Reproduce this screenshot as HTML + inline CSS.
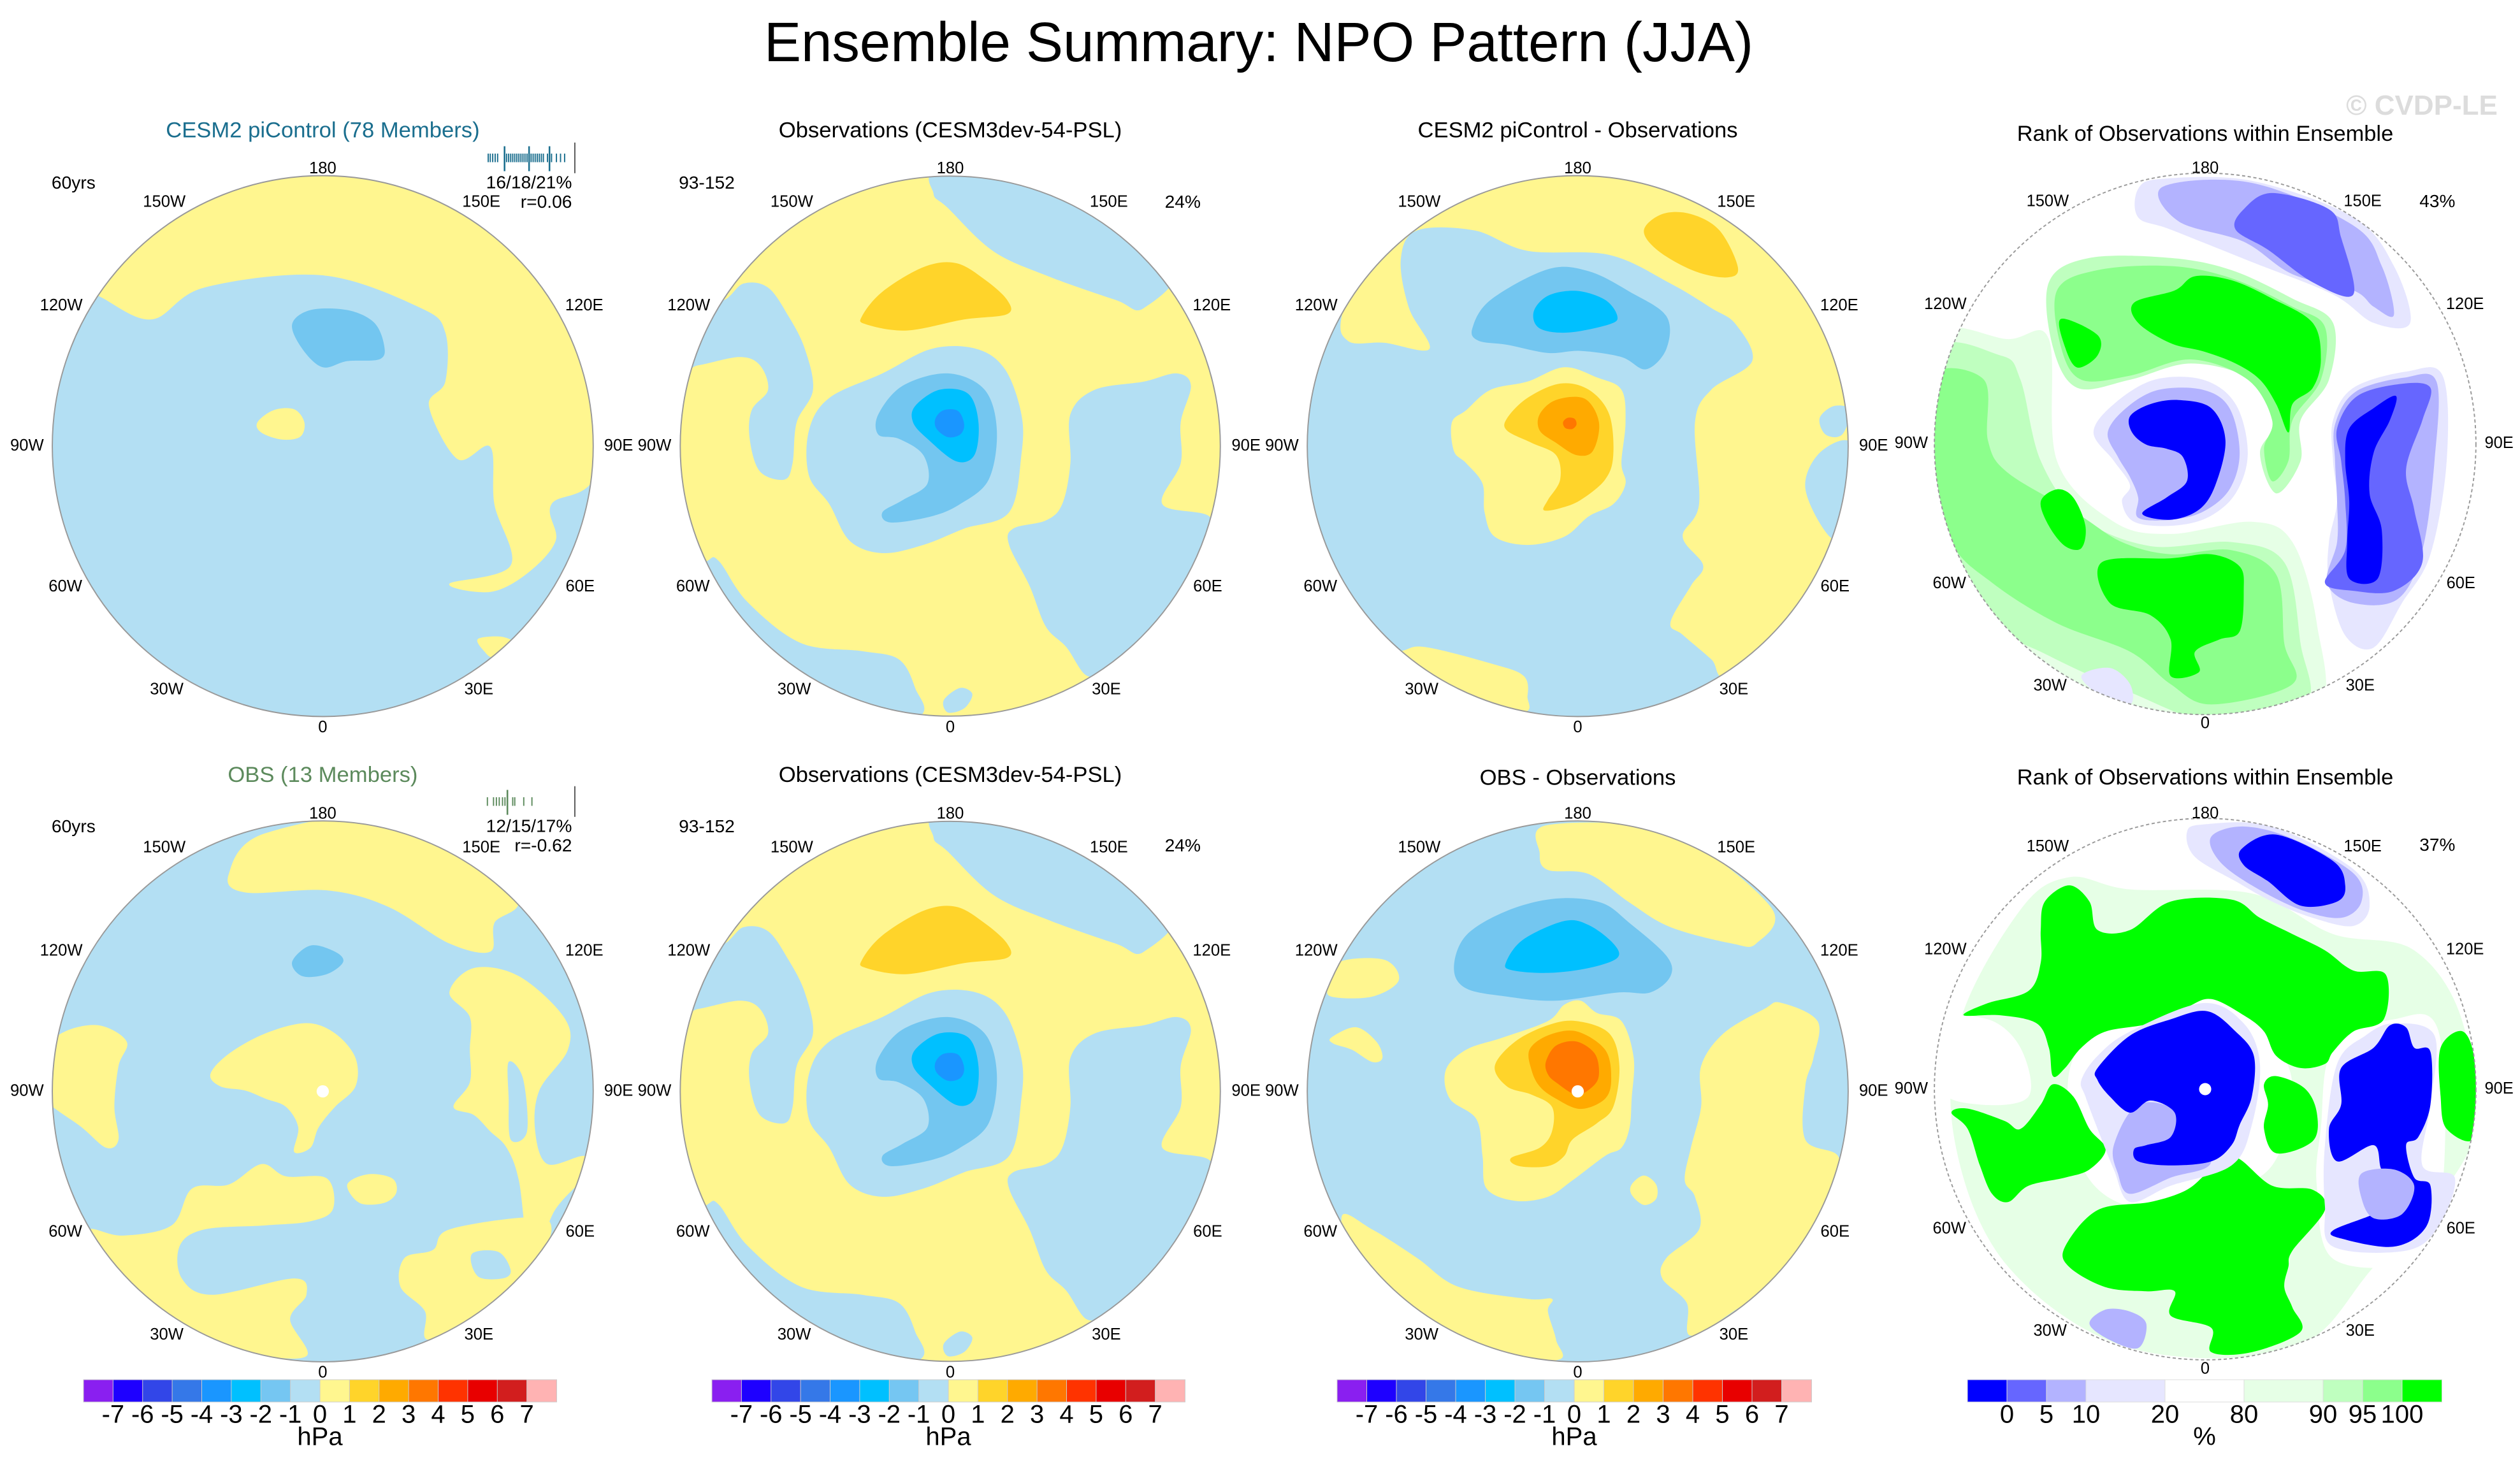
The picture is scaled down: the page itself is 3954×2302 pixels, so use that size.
<!DOCTYPE html>
<html><head><meta charset="utf-8">
<style>
html,body{margin:0;padding:0;background:#fff;}
svg{display:block;font-family:"Liberation Sans",Arial,sans-serif;}
</style></head>
<body>
<svg id="root" width="3954" height="2302" viewBox="0 0 3954 2302" xmlns="http://www.w3.org/2000/svg">
<rect width="3954" height="2302" fill="#fff"/>
<text x="1975" y="96" font-size="87" text-anchor="middle" fill="#000">Ensemble Summary: NPO Pattern (JJA)</text>
<text x="3800" y="180" font-size="44" font-weight="bold" text-anchor="middle" fill="#dcdcdc">© CVDP-LE</text>
<g id="panels"></g>
<g id="colorbars"></g>
</svg>
<script>
// ---- colorbar data ----
const hpaTickLabels = ["-7","-6","-5","-4","-3","-2","-1","0","1","2","3","4","5","6","7"];
const hpaColors = ["#8a1ff0","#1e00ff","#3246e8","#3578e8","#1a96ff","#00c0ff","#75c6f2","#b3dff3","#fff68f","#ffd42a","#ffaa00","#ff7700","#ff3300","#e80000","#d21e1e","#ffb3b3"];
const rankTickLabels = ["0","5","10","20","80","90","95","100"];
const rankColors = ["#0000ff","#6666ff","#b3b3ff","#e6e6ff","#ffffff","#e6ffe6","#bfffbf","#8cff8c","#00ff00"];
const rankWidths = [1,1,1,2,2,2,1,1,1];

const NS="http://www.w3.org/2000/svg";
function mk(tag,attrs,parent){const e=document.createElementNS(NS,tag);for(const k in attrs)e.setAttribute(k,attrs[k]);if(parent)parent.appendChild(e);return e;}
function smooth(p){
  const n=p.length;let d="M"+p[0][0]+","+p[0][1];
  for(let i=0;i<n;i++){
    const p0=p[(i-1+n)%n],p1=p[i],p2=p[(i+1)%n],p3=p[(i+2)%n];
    const c1=[p1[0]+(p2[0]-p0[0])/6,p1[1]+(p2[1]-p0[1])/6];
    const c2=[p2[0]-(p3[0]-p1[0])/6,p2[1]-(p3[1]-p1[1])/6];
    d+="C"+c1[0].toFixed(1)+","+c1[1].toFixed(1)+" "+c2[0].toFixed(1)+","+c2[1].toFixed(1)+" "+p2[0]+","+p2[1];
  }
  return d+"Z";
}
const C={lb:"#b3dff3",y:"#fff68f",mb:"#73c6f0",cy:"#00c0ff",bl:"#1a96ff",gd:"#ffd42a",or:"#ffaa00",do:"#ff7700",
 g100:"#00ff00",g95:"#8cff8c",g90:"#bfffbf",g80:"#e6ffe6",b20:"#e6e6ff",b10:"#b3b3ff",b5:"#6666ff",b0:"#0000ff",w:"#ffffff"};

const obsShapes=[
 ["lb",[[725,240],[750,180],[1100,190],[1320,400],[1240,520],[1170,500],[1000,440],[870,380],[760,275]]],
 ["gd",[[550,540],[600,480],[700,420],[780,410],[850,450],[905,500],[905,535],[800,548],[660,575],[560,560]]],
 ["lb",[[100,660],[120,400],[200,500],[260,460],[320,470],[370,540],[410,620],[430,720],[390,800],[380,900],[360,940],[300,920],[275,840],[280,770],[320,720],[300,660],[250,640],[150,660]]],
 ["lb",[[420,820],[470,740],[600,680],[720,620],[830,620],[900,670],[940,780],[940,880],[910,1020],[800,1060],[700,1100],[600,1120],[520,1090],[470,1000],[420,930]]],
 ["mb",[[590,780],[650,710],[760,680],[850,720],[880,820],[860,940],[790,1000],[720,1030],[620,1045],[600,1020],[650,990],[710,950],[700,880],[640,840],[590,830]]],
 ["cy",[[680,760],[740,720],[810,730],[835,800],[825,880],[780,895],[710,840],[675,800]]],
 ["bl",[[730,790],[750,770],[785,772],[800,805],[790,830],[760,836],[732,815]]],
 ["lb",[[1060,780],[1120,720],[1240,700],[1320,680],[1355,710],[1330,800],[1330,900],[1285,1000],[1400,1030],[1400,1100],[1300,1300],[1150,1400],[1100,1420],[1050,1350],[1000,1300],[960,1200],[910,1100],[920,1060],[1000,1040],[1040,1000],[1060,900]]],
 ["lb",[[100,1200],[170,1140],[200,1140],[270,1240],[400,1340],[550,1360],[640,1380],[680,1450],[690,1520],[500,1560],[200,1400]]],
 ["lb",[[750,1480],[790,1450],[820,1465],[800,1500],[760,1510]]]
];

const panels=[
 {name:"cesm2-picontrol",ox:0,oy:150,s:1.56,cx:790,cy:858,r:662,base:"lb",title:"CESM2 piControl (78 Members)",tcolor:"#1a6e8e",ty:88,left:"60yrs",right:null,hist:{c:"#1a6e8e",t1:"16/18/21%",t2:"r=0.06",ticks:[1195,1200,1206,1212,1218,1240,1245,1250,1255,1260,1265,1270,1275,1280,1285,1290,1300,1305,1310,1315,1320,1325,1330,1340,1350,1362,1372,1382],tall:[1235,1295,1345]},
  shapes:[
  ["y",[[240,490],[370,548],[500,470],[790,440],[1030,520],[1090,580],[1090,700],[1050,760],[1120,890],[1200,860],[1210,1000],[1250,1150],[1100,1195],[1200,1215],[1290,1170],[1360,1090],[1350,1000],[1460,925],[1500,600],[1300,150],[790,100],[300,200],[150,450]]],
  ["mb",[[715,560],[760,525],[850,525],[915,555],[940,610],[930,645],[850,650],[790,665],[740,620]]],
  ["y",[[630,800],[670,770],[720,768],[745,800],[735,835],[690,842],[640,825]]],
  ["y",[[1170,1330],[1230,1325],[1260,1345],[1210,1375],[1185,1360]]]
 ]},
 {name:"observations-top",ox:1000,oy:150,s:1.56,cx:766,cy:858,r:661,base:"y",title:"Observations (CESM3dev-54-PSL)",tcolor:"#000",ty:88,left:"93-152",right:"24%",shapes:obsShapes},
 {name:"cesm2-minus-obs",ox:1980,oy:150,s:1.56,cx:773,cy:858,r:662,base:"lb",title:"CESM2 piControl - Observations",tcolor:"#000",ty:88,left:null,right:null,shapes:[
  ["y",[[200,520],[210,600],[300,605],[410,620],[360,520],[340,400],[380,330],[520,330],[650,380],[850,390],[1000,460],[1100,520],[1160,560],[1200,650],[1100,720],[1060,800],[1070,1000],[1030,1080],[1080,1150],[1050,1200],[1000,1290],[1030,1320],[1100,1380],[1140,1420],[1300,1300],[1400,1080],[1460,800],[1500,500],[1100,150],[780,120],[300,250]]],
  ["lb",[[1365,790],[1400,760],[1440,770],[1420,830],[1380,830]]],
  ["lb",[[1330,960],[1370,870],[1450,860],[1450,1080],[1390,1080]]],
  ["gd",[[935,330],[980,290],[1050,290],[1120,330],[1165,420],[1140,445],[1060,430],[970,380]]],
  ["mb",[[515,570],[560,500],[700,425],[800,430],[900,480],[990,540],[990,620],[940,670],[880,640],[780,625],[700,630],[600,610],[530,600]]],
  ["cy",[[665,530],[700,490],[770,478],[840,500],[870,540],[850,560],[750,580],[680,570]]],
  ["y",[[465,800],[500,770],[560,720],[650,700],[740,665],[820,690],[880,720],[890,800],[880,900],[890,950],[860,1000],[800,1030],[740,1080],[650,1100],[570,1080],[545,1020],[540,950],[500,900],[470,870]]],
  ["gd",[[600,790],[650,740],[730,705],[800,720],[850,780],[860,880],[840,940],[780,990],[730,1010],[690,1015],[700,990],[730,940],[720,880],[660,850],[600,820]]],
  ["or",[[680,780],[720,745],[790,742],[825,800],[810,870],[770,880],[720,850],[680,820]]],
  ["do",[[737,800],[748,789],[765,791],[770,805],[760,816],[743,814]]],
  ["y",[[340,1360],[400,1350],[560,1390],[640,1420],[650,1470],[630,1510],[400,1470],[250,1380]]]
 ]},
 {name:"rank-top",ox:2960,oy:150,s:1.57,cx:785,cy:858,r:667,base:"w",rank:true,title:"Rank of Observations within Ensemble",tcolor:"#000",ty:97,left:null,right:"43%",rx:1357,shapes:[
  ["g80",[[110,600],[300,600],[400,600],[420,900],[560,1050],[700,1080],[900,1050],[1000,1100],[1060,1300],[1060,1520],[780,1560],[500,1480],[250,1330],[100,1000]]],
  ["g90",[[110,640],[280,640],[330,700],[380,900],[480,1040],[650,1110],[850,1100],[980,1150],[1020,1350],[1030,1500],[800,1540],[600,1470],[400,1380],[230,1280],[110,1050]]],
  ["g95",[[110,690],[240,700],[250,850],[300,930],[470,1030],[580,1100],[700,1130],[850,1120],[960,1180],[980,1350],[1000,1450],[800,1500],[700,1450],[600,1370],[420,1300],[260,1200],[160,1100],[110,900]]],
  ["g100",[[530,1150],[700,1140],[800,1130],[870,1160],[880,1220],[870,1320],[820,1340],[760,1370],[770,1420],[700,1430],[700,1340],[650,1280],[550,1250]]],
  ["g100",[[380,1000],[420,970],[460,990],[490,1060],[480,1115],[440,1110],[400,1060]]],
  ["g90",[[400,460],[500,400],[700,400],[850,430],[1000,500],[1100,560],[1090,700],[1020,800],[1020,900],[960,980],[920,880],[960,800],[900,700],[750,660],[600,700],[470,720],[410,620]]],
  ["g95",[[420,480],[520,430],[700,420],[850,450],[1000,520],[1080,570],[1070,700],[1000,800],[990,900],[950,950],[930,870],[950,800],[890,700],[750,650],[600,690],[480,700],[430,620]]],
  ["g100",[[610,510],[710,480],[760,445],[850,455],[950,500],[1050,560],[1070,650],[1050,720],[1000,760],[990,830],[960,760],[920,700],[860,660],[780,630],[700,610],[620,560]]],
  ["g100",[[430,550],[520,590],[520,640],[470,670],[440,620]]],
  ["b20",[[510,830],[560,760],[660,700],[780,700],[860,760],[890,880],[860,980],[790,1040],[700,1060],[610,1050],[580,1000],[600,960],[560,900]]],
  ["b10",[[545,830],[590,770],[670,725],[780,725],[845,770],[870,880],[845,970],[780,1025],[700,1045],[620,1040],[620,990],[600,940],[570,890]]],
  ["b0",[[600,790],[650,760],[720,750],[800,770],[835,850],[810,960],[770,1020],[700,1045],[630,1030],[690,990],[740,950],[730,890],[690,870],[640,860],[605,830]]],
  ["b20",[[1100,800],[1150,720],[1280,680],[1370,690],[1380,900],[1340,1130],[1270,1250],[1200,1360],[1130,1330],[1090,1200],[1090,1100],[1110,1000],[1100,900]]],
  ["b10",[[1105,810],[1155,730],[1275,695],[1355,705],[1350,900],[1320,1120],[1260,1240],[1150,1250],[1085,1200],[1110,1100],[1110,1000],[1105,900]]],
  ["b5",[[1110,820],[1160,740],[1270,710],[1340,720],[1320,800],[1280,920],[1300,1020],[1320,1150],[1250,1220],[1150,1220],[1080,1200],[1130,1120],[1130,1000],[1120,900]]],
  ["b0",[[1140,820],[1200,770],[1255,740],[1240,800],[1200,880],[1190,980],[1220,1070],[1210,1190],[1140,1190],[1135,1100],[1140,1000],[1130,900]]],
  ["b20",[[620,230],[680,205],[900,210],[1150,300],[1250,420],[1290,560],[1200,560],[1100,490],[900,410],[700,330],[620,300]]],
  ["b10",[[680,225],[900,215],[1150,320],[1220,420],[1250,540],[1200,520],[1150,480],[1000,440],[880,360],[720,310]]],
  ["b5",[[880,280],[950,240],[1090,280],[1120,350],[1150,490],[1050,460],[940,380],[860,330]]],
  ["b20",[[480,1430],[550,1410],[600,1450],[600,1500],[530,1480]]]
 ]},
 {name:"obs-13-members",ox:0,oy:1160,s:1.56,cx:790,cy:862,r:662,base:"lb",title:"OBS (13 Members)",tcolor:"#5c8a5c",ty:90,left:"60yrs",right:null,dot:true,hist:{c:"#5c8a5c",t1:"12/15/17%",t2:"r=-0.62",ticks:[1193,1208,1215,1222,1230,1236,1255,1260,1282,1302],tall:[1242]},shapes:[
  ["y",[[560,330],[650,230],[1000,190],[1260,380],[1210,450],[1200,520],[1100,500],[950,410],[800,370],[600,375]]],
  ["y",[[1100,620],[1160,560],[1270,580],[1380,680],[1390,760],[1320,860],[1310,960],[1340,1040],[1430,1020],[1440,1060],[1360,1150],[1300,1270],[1270,1080],[1240,1000],[1200,960],[1160,920],[1110,900],[1150,840],[1150,760],[1150,680]]],
  ["lb",[[1245,790],[1280,830],[1290,960],[1250,980],[1245,880]]],
  ["y",[[990,1270],[1060,1250],[1100,1200],[1300,1170],[1350,1200],[1300,1300],[1200,1400],[1050,1470],[1040,1400],[980,1340]]],
  ["lb",[[1155,1260],[1220,1255],[1250,1300],[1230,1320],[1170,1315]]],
  ["y",[[100,780],[150,720],[240,700],[310,740],[290,800],[280,900],[290,980],[260,1000],[200,950],[100,870]]],
  ["y",[[220,1200],[300,1215],[420,1190],[470,1100],[560,1090],[640,1040],[700,1070],[800,1075],[815,1150],[760,1180],[650,1190],[500,1200],[440,1240],[445,1320],[520,1360],[720,1320],[750,1360],[710,1420],[750,1510],[600,1500],[400,1430],[250,1260]]],
  ["y",[[515,820],[560,770],[650,720],[750,695],[820,720],[870,780],[870,850],[820,900],[780,950],[760,1000],[720,1010],[730,950],[700,900],[650,880],[600,860],[540,850]]],
  ["y",[[850,1090],[900,1065],[960,1075],[970,1110],[940,1135],[880,1135]]],
  ["mb",[[715,545],[760,505],[820,520],[840,545],[800,575],[740,580]]]
 ]},
 {name:"observations-bottom",ox:1000,oy:1160,s:1.56,cx:766,cy:862,r:661,base:"y",title:"Observations (CESM3dev-54-PSL)",tcolor:"#000",ty:90,left:"93-152",right:"24%",shapes:obsShapes},
 {name:"obs-minus-obs",ox:1980,oy:1160,s:1.56,cx:773,cy:862,r:662,base:"lb",title:"OBS - Observations",tcolor:"#000",ty:97,left:null,right:null,dot:true,shapes:[
  ["y",[[680,280],[700,210],[1000,230],[1245,410],[1210,500],[1150,500],[1000,460],[900,400],[800,330],[700,320]]],
  ["mb",[[470,560],[500,480],[600,420],[720,390],[830,400],[900,450],[990,530],[1000,580],[950,620],[870,620],[720,640],[600,630],[500,610]]],
  ["cy",[[598,545],[640,490],[740,445],[800,455],[860,500],[870,535],[800,560],[700,572],[610,565]]],
  ["y",[[165,600],[190,545],[300,540],[335,590],[270,630],[170,630]]],
  ["y",[[170,730],[230,705],[280,740],[295,780],[270,790],[220,760],[175,745]]],
  ["y",[[450,810],[500,760],[590,730],[700,690],[740,650],[780,640],[820,670],[880,690],[910,780],[905,880],[900,950],[880,1000],[840,1020],[760,1080],[700,1120],[620,1130],[550,1100],[540,1020],[525,930],[460,880]]],
  ["gd",[[570,800],[620,740],[700,700],[770,690],[850,720],[875,800],[860,900],[820,940],[760,980],[740,1020],[700,1045],[630,1045],[610,1025],[680,1000],[710,960],[710,900],[660,870],[600,850]]],
  ["or",[[655,760],[700,725],[770,715],[840,760],[855,830],[840,880],[780,905],[720,880],[680,850],[660,810]]],
  ["do",[[695,790],[720,750],[770,740],[815,770],[825,820],[810,850],[770,870],[720,840],[700,820]]],
  ["y",[[905,1090],[935,1068],[965,1090],[965,1125],[935,1140],[905,1115]]],
  ["y",[[1075,800],[1130,720],[1230,660],[1270,645],[1360,690],[1350,780],[1330,850],[1330,980],[1410,1020],[1400,1100],[1300,1300],[1170,1390],[1050,1460],[1040,1380],[980,1320],[990,1270],[1070,1200],[1060,1120],[1035,1080],[1050,1000],[1075,900]]],
  ["y",[[195,1170],[270,1200],[380,1270],[480,1340],[650,1370],[710,1370],[700,1400],[720,1470],[720,1520],[500,1500],[250,1350]]]
 ]},
 {name:"rank-bottom",ox:2960,oy:1160,s:1.57,cx:785,cy:862,r:667,base:"w",rank:true,title:"Rank of Observations within Ensemble",tcolor:"#000",ty:97,left:null,right:"37%",rx:1357,dot:true,shapes:[
  ["g80",[[330,420],[450,340],[600,370],[900,380],[1100,480],[1300,520],[1420,700],[1440,1000],[1200,1300],[1000,1500],[600,1500],[300,1300],[170,1000],[180,700]]],
  ["w",[[450,820],[550,700],[780,640],[920,700],[1000,850],[950,1050],[800,1120],[600,1150],[480,1050]]],
  ["w",[[1070,960],[1100,760],[1250,690],[1360,720],[1370,1100],[1300,1280],[1100,1280],[1060,1100]]],
  ["w",[[130,700],[250,690],[330,760],[350,880],[230,900],[130,860]]],
  ["g100",[[390,400],[450,360],[500,400],[520,470],[600,470],[700,400],[850,395],[920,440],[1000,480],[1080,520],[1150,570],[1230,580],[1225,690],[1150,720],[1100,770],[1080,800],[1020,810],[960,780],[930,720],[880,680],[800,640],[740,660],[650,700],[540,720],[480,760],[440,810],[410,830],[400,760],[370,700],[280,680],[190,680],[250,650],[350,620],[380,550],[380,470]]],
  ["g100",[[160,920],[200,910],[290,940],[330,960],[380,900],[410,850],[460,880],[500,960],[540,1010],[500,1060],[440,1080],[350,1100],[300,1140],[260,1120],[230,1050],[200,960]]],
  ["g100",[[440,1250],[520,1160],[650,1140],[740,1110],[800,1060],[860,1030],[950,1100],[1050,1110],[1080,1160],[1000,1260],[990,1300],[980,1350],[1000,1400],[1020,1460],[900,1510],[800,1510],[800,1450],[700,1420],[710,1360],[640,1360],[540,1350],[450,1300]]],
  ["g100",[[930,850],[960,830],[1030,860],[1060,920],[1050,990],[960,1020],[930,960],[940,900]]],
  ["g100",[[1365,760],[1420,720],[1450,800],[1450,980],[1380,960],[1365,880]]],
  ["b20",[[480,840],[520,780],[600,720],[780,650],[880,700],[920,800],[900,950],[850,1050],[700,1100],[600,1140],[560,1060],[520,960],[490,880]]],
  ["b10",[[560,1000],[620,900],[720,920],[800,1040],[700,1080],[600,1120],[570,1070]]],
  ["b0",[[520,810],[600,730],[700,690],[790,670],[860,720],[905,780],[900,880],[870,950],[850,1000],[800,1040],[700,1050],[620,1040],[610,1010],[640,1000],[700,980],[710,920],[650,890],[600,920],[550,880],[520,840]]],
  ["b20",[[1080,1000],[1110,800],[1180,730],[1250,700],[1350,730],[1340,900],[1320,1050],[1400,1080],[1360,1200],[1280,1260],[1100,1250],[1080,1150]]],
  ["b0",[[1120,810],[1200,760],[1240,705],[1280,710],[1300,760],[1340,770],[1340,900],[1310,980],[1280,1000],[1300,1080],[1340,1100],[1330,1200],[1250,1250],[1120,1230],[1100,1210],[1200,1170],[1250,1140],[1260,1080],[1220,1060],[1200,1000],[1110,1040],[1090,960],[1120,900]]],
  ["b10",[[1170,1070],[1250,1060],[1300,1100],[1270,1170],[1200,1180],[1170,1130]]],
  ["b20",[[740,230],[780,210],[950,215],[1150,320],[1190,410],[1150,460],[1050,440],[950,400],[860,350],[760,290]]],
  ["b10",[[800,240],[880,215],[1000,245],[1150,330],[1170,400],[1120,440],[1020,420],[900,360],[820,300]]],
  ["b0",[[875,270],[960,235],[1100,300],[1130,360],[1110,400],[1020,410],[940,350],[880,310]]],
  ["b10",[[500,1440],[540,1405],[600,1410],[640,1440],[620,1500],[550,1480]]]
 ]}
];

const lonLabels=[["180",0,-678],["150W",-388,-596],["150E",388,-596],["120W",-640,-343],["120E",640,-343],["90W",-724,0],["90E",724,0],["60W",-630,345],["60E",630,345],["30W",-382,597],["30E",382,597],["0",0,690]];

const root=document.getElementById("panels");
panels.forEach((p,i)=>{
  const g=mk("g",{transform:`translate(${p.ox},${p.oy}) scale(${(1/p.s).toFixed(5)})`},root);
  
  
  const cid="clip"+i;
  const cp=mk("clipPath",{id:cid},g);
  mk("circle",{cx:p.cx,cy:p.cy,r:p.r},cp);
  const map=mk("g",{"clip-path":`url(#${cid})`},g);
  
  
  mk("circle",{cx:p.cx,cy:p.cy,r:p.r,fill:C[p.base]},map);
  p.shapes.forEach((s,j)=>{
    const path=mk("path",{d:smooth(s[1]),fill:C[s[0]]},map);
    
    
  });
  if(p.dot){
    const d=mk("circle",{cx:p.cx,cy:p.cy,r:15,fill:"#fff"},map);
    
    
  }
  const border=mk("circle",{cx:p.cx,cy:p.cy,r:p.r,fill:"none",stroke:"#999","stroke-width":3,"stroke-dasharray":p.rank?"8 6":"none"},g);
  
  
  const t=mk("text",{x:p.cx,y:p.ty,"font-size":54,"text-anchor":"middle","dominant-baseline":"middle",fill:p.tcolor},g);
  t.textContent=p.title;
  
  
  lonLabels.forEach(l=>{
    const tt=mk("text",{x:p.cx+l[1],y:p.cy+l[2],"font-size":40,"text-anchor":"middle","dominant-baseline":"middle",fill:"#000"},g);
    tt.textContent=l[0];
    
    
  });
  if(p.left){
    const lt=mk("text",{x:p.left==="60yrs"?180:170,y:216,"font-size":44,"text-anchor":"middle","dominant-baseline":"middle"},g);
    lt.textContent=p.left;
    
    
  }
  if(p.right){
    const rt=mk("text",{x:p.rx||1335,y:263,"font-size":44,"text-anchor":"middle","dominant-baseline":"middle"},g);
    rt.textContent=p.right;
    
    
  }
  if(p.hist){
    const h=p.hist;
    h.ticks.forEach(x=>{
      const ln=mk("line",{x1:x,x2:x,y1:142,y2:163,stroke:h.c,"stroke-width":3},g);
      
      
    });
    h.tall.forEach(x=>{
      const ln=mk("line",{x1:x,x2:x,y1:124,y2:185,stroke:h.c,"stroke-width":4},g);
      
      
    });
    const ob=mk("line",{x1:1407,x2:1407,y1:115,y2:190,stroke:"#555","stroke-width":3},g);
    
    
    const t1=mk("text",{x:1400,y:215,"font-size":44,"text-anchor":"end","dominant-baseline":"middle"},g);
    t1.textContent=h.t1;
    
    
    const t2=mk("text",{x:1400,y:263,"font-size":44,"text-anchor":"end","dominant-baseline":"middle"},g);
    t2.textContent=h.t2;
    
    
  }
});

// ---- colorbars ----
const cbg=document.getElementById("colorbars");
const barTop=2165, barH=35;
function hpaBar(x0,x1,idx){
  const g=mk("g",{},cbg);
  
  
  const w=(x1-x0)/hpaColors.length;
  hpaColors.forEach((c,i)=>{
    const r=mk("rect",{x:x0+i*w,y:barTop,width:w+0.5,height:barH,fill:c,stroke:"#ccc","stroke-width":1},g);
    
    
  });
  hpaTickLabels.forEach((l,i)=>{
    const t=mk("text",{x:x0+(i+1)*w,y:2222,"font-size":40,"text-anchor":"middle","dominant-baseline":"middle"},g);
    t.textContent=l;
    
    
  });
  const u=mk("text",{x:(x0+x1)/2,y:2257,"font-size":40,"text-anchor":"middle","dominant-baseline":"middle"},g);
  u.textContent="hPa";
  
  
}
hpaBar(131,873,1);hpaBar(1117,1859,2);hpaBar(2098,2842,3);
(function(){
  const x0=3087,x1=3831;
  const g=mk("g",{},cbg);
  
  
  const tot=rankWidths.reduce((a,b)=>a+b,0);const u=(x1-x0)/tot;
  let x=x0;const bounds=[];
  rankColors.forEach((c,i)=>{
    const r=mk("rect",{x:x,y:barTop,width:rankWidths[i]*u+0.5,height:barH,fill:c,stroke:"#ddd","stroke-width":1},g);
    
    
    x+=rankWidths[i]*u;bounds.push(x);
  });
  rankTickLabels.forEach((l,i)=>{
    const t=mk("text",{x:bounds[i],y:2222,"font-size":40,"text-anchor":"middle","dominant-baseline":"middle"},g);
    t.textContent=l;
    
    
  });
  const un=mk("text",{x:(x0+x1)/2,y:2257,"font-size":40,"text-anchor":"middle","dominant-baseline":"middle"},g);
  un.textContent="%";
  
  
})();
</script>
</body></html>
